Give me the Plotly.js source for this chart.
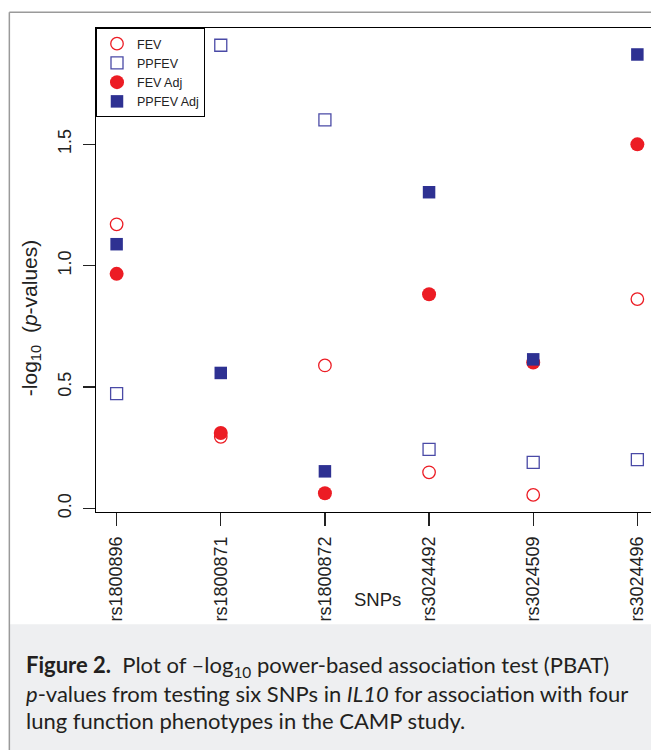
<!DOCTYPE html>
<html>
<head>
<meta charset="utf-8">
<script src="https://cdn.plot.ly/plotly-3.0.1.min.js"></script>
<style>
html,body{margin:0;padding:0;background:#fff;overflow:hidden;}
#chart{width:651px;height:750px;}
</style>
</head>
<body>
<div id="chart"></div>
<script>
// ---- data ----
const snps = ["rs1800896", "rs1800871", "rs1800872", "rs3024492", "rs3024509", "rs3024496"];
const fev = [1.17, 0.295, 0.589, 0.149, 0.056, 0.862];
const ppfev = [0.473, 1.907, 1.60, 0.243, 0.190, 0.201];
const fevAdj = [0.966, 0.311, 0.063, 0.882, 0.601, 1.499];
const ppfevAdj = [1.088, 0.558, 0.153, 1.302, 0.614, 1.869];
const yTicks = [0, 0.5, 1.0, 1.5];
const yTickText = ["0.0", "0.5", "1.0", "1.5"];
const captionLines = [
  "<b>Figure 2.</b>  Plot of \u2013log<sub>10</sub> power-based association test (PBAT)",
  "<i>p</i>-values from testing six SNPs in <i>IL10</i> for association with four",
  "lung function phenotypes in the CAMP study."
];

// ---- layout geometry (pixels) ----
const W = 651, H = 750;
const mL = 95.7, mT = 27.7, mB = H - 512.5, mR = 0;
const pw = W - mL - mR, ph = H - mT - mB;
const px2x = p => (p - mL) / pw;
const px2y = p => (H - mB - p) / ph;

const RED = "#ec1c24", NAVY = "#2e3192", LBLUE = "#4a4aa6";
const font = "Liberation Sans, Arial, Helvetica, sans-serif";

const traces = [
  {x: snps, y: fev, name: "FEV", type: "scatter", mode: "markers",
   marker: {symbol: "circle-open", size: 12.5, color: RED, line: {width: 1.3, color: RED}}},
  {x: snps, y: ppfev, name: "PPFEV", type: "scatter", mode: "markers",
   marker: {symbol: "square-open", size: 12, color: LBLUE, line: {width: 1.3, color: LBLUE}}},
  {x: snps, y: fevAdj, name: "FEV Adj", type: "scatter", mode: "markers",
   marker: {symbol: "circle", size: 14, color: RED, line: {width: 0}}},
  {x: snps, y: ppfevAdj, name: "PPFEV Adj", type: "scatter", mode: "markers",
   marker: {symbol: "square", size: 12.5, color: NAVY, line: {width: 0}}}
];

const annotations = [
  {text: "-log<sub>10</sub>  (<i>p</i>-values)", xref: "paper", yref: "paper",
   x: px2x(30), y: px2y(318), textangle: -90, showarrow: false,
   xanchor: "center", yanchor: "middle",
   font: {family: font, size: 21, color: "#222"}},
  {text: "SNPs", xref: "paper", yref: "paper", x: px2x(377), y: px2y(600),
   showarrow: false, xanchor: "center", yanchor: "middle",
   font: {family: font, size: 18.5, color: "#222"}}
];
const capY = [667, 694, 721];
captionLines.forEach((t, i) => annotations.push({
  text: t, xref: "paper", yref: "paper", x: px2x(24), y: px2y(capY[i]),
  showarrow: false, xanchor: "left", yanchor: "middle", align: "left",
  font: {family: "Lato, 'Open Sans', sans-serif", size: 22, color: "#231f20"}
}));

const layout = {
  width: W, height: H,
  margin: {l: mL, r: mR, t: mT, b: mB, pad: 0},
  paper_bgcolor: "#ffffff", plot_bgcolor: "#ffffff",
  showlegend: true,
  legend: {x: 0, y: 1, xanchor: "left", yanchor: "top",
    bgcolor: "#ffffff", bordercolor: "#000", borderwidth: 1,
    font: {family: font, size: 12.5, color: "#222"},
    tracegroupgap: 0, itemwidth: 30},
  xaxis: {type: "category", range: [-0.198, 5.131], showgrid: false, zeroline: false,
    showline: true, linecolor: "#000", linewidth: 1.2, mirror: true,
    ticks: "outside", ticklen: 13, tickwidth: 1.2, tickcolor: "#222",
    tickangle: -90, tickfont: {family: font, size: 18, color: "#222"},
    ticklabelstandoff: 3},
  yaxis: {range: [-0.0144, 1.978], showgrid: false, zeroline: false,
    showline: true, linecolor: "#000", linewidth: 1.2,
    tickvals: yTicks, ticktext: yTickText,
    ticks: "outside", ticklen: 12, tickwidth: 1.2, tickcolor: "#222",
    tickangle: -90, tickfont: {family: font, size: 18, color: "#222"},
    ticklabelstandoff: 5},
  annotations: annotations,
  shapes: [
    {type: "rect", xref: "paper", yref: "paper", layer: "below",
     x0: px2x(9), x1: px2x(W + 5), y0: px2y(H + 5), y1: px2y(625),
     fillcolor: "#eeeff1", line: {width: 0}},
    {type: "line", xref: "paper", yref: "paper",
     x0: px2x(9), x1: px2x(W + 5), y0: px2y(12), y1: px2y(12),
     line: {color: "#9a9a9a", width: 1.5}},
    {type: "line", xref: "paper", yref: "paper",
     x0: px2x(9), x1: px2x(9), y0: px2y(12), y1: px2y(H + 5),
     line: {color: "#9a9a9a", width: 1.5}}
  ]
};

Plotly.newPlot("chart", traces, layout, {displayModeBar: false, staticPlot: true});
</script>
</body>
</html>
